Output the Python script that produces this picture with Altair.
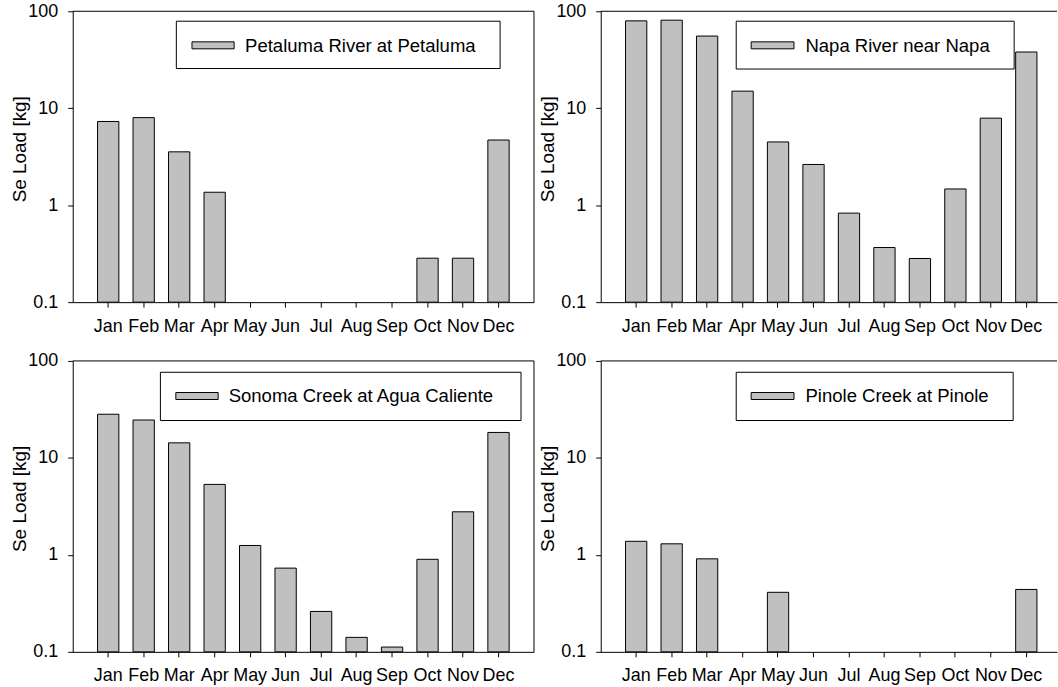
import altair as alt
import pandas as pd

months = ["Jan", "Feb", "Mar", "Apr", "May", "Jun", "Jul", "Aug", "Sep", "Oct", "Nov", "Dec"]
sites = ["Petaluma River at Petaluma", "Napa River near Napa",
         "Sonoma Creek at Agua Caliente", "Pinole Creek at Pinole"]

petaluma = [7.3, 8.0, 3.55, 1.36, None, None, None, None, None, 0.284, 0.284, 4.7]
napa = [79.6, 80.9, 55.5, 15.0, 4.49, 2.63, 0.828, 0.366, 0.282, 1.47, 7.9, 38.0]
sonoma = [28.2, 24.6, 14.3, 5.33, 1.25, 0.73, 0.261, 0.141, 0.112, 0.90, 2.78, 18.3]
pinole = [1.38, 1.30, 0.91, None, 0.411, None, None, None, None, None, None, 0.44]

y_ticks = [0.1, 1, 10, 100]

FONT = "Liberation Sans"
BAR = "#c0c0c0"
H = 292


def panel(name, values, left, box):
    w = 463 if left else 458
    df = pd.DataFrame({"month": months, "load": values}).dropna()
    if left:
        xs = alt.Scale(domain=months, paddingInner=0.4, paddingOuter=0.7)
    else:
        xs = alt.Scale(domain=months, paddingInner=0.4, paddingOuter=0.6326, align=0.553)
    x = alt.X("month:N", scale=xs, sort=months,
              axis=alt.Axis(title=None, labelAngle=0, labelFontSize=18, labelPadding=10,
                            tickSize=5))
    y = alt.Y("load:Q", scale=alt.Scale(type="log", domain=[0.1, 100]),
              axis=alt.Axis(values=y_ticks, format="~g", title="Se Load [kg]",
                            labelFontSize=18, labelPadding=10, tickSize=5,
                            titleFontSize=19, titleFontWeight="normal",
                            titleX=-47, titleY=138, titleBaseline="alphabetic"))
    bars = alt.Chart(df).mark_bar(fill=BAR, stroke="black", strokeWidth=1).encode(
        x=x, y=y, y2=alt.datum(0.1))

    lab = pd.DataFrame({"site": [name]})
    bx0, by0, bx1, by1, sx0, sx1, sy0, sy1, tx, ty = box
    frame = alt.Chart(lab).mark_rect(fill="white", stroke="black", strokeWidth=1).encode(
        x=alt.value(bx0), x2=alt.value(bx1), y=alt.value(by0), y2=alt.value(by1))
    swatch = alt.Chart(lab).mark_rect(fill=BAR, stroke="black", strokeWidth=1).encode(
        x=alt.value(sx0), x2=alt.value(sx1), y=alt.value(sy0), y2=alt.value(sy1))
    text = alt.Chart(lab).mark_text(align="left", baseline="middle", fontSize=18.6,
                                    font=FONT, color="black").encode(
        x=alt.value(tx), y=alt.value(ty), text="site:N")
    top = alt.Chart(lab).mark_rule(color="black", strokeWidth=1).encode(
        x=alt.value(0), x2=alt.value(w), y=alt.value(0))
    layers = [bars, top, frame, swatch, text]
    if left:
        right = alt.Chart(lab).mark_rule(color="black", strokeWidth=1).encode(
            x=alt.value(w), y=alt.value(0), y2=alt.value(H))
        layers.append(right)
    return alt.layer(*layers).properties(width=w, height=H)


p1 = panel(sites[0], petaluma, True, (104, 10, 429, 57.5, 119.7, 162, 30.7, 37.7, 173, 34.5))
p2 = panel(sites[1], napa, False, (136, 10, 415, 58, 151, 194, 30.7, 37.7, 205.5, 34.5))
p3 = panel(sites[2], sonoma, True, (88, 11.4, 450, 59.8, 103.5, 146, 31.7, 38.7, 156.5, 35.5))
p4 = panel(sites[3], pinole, False, (136, 11.4, 414, 59.8, 151, 194, 31.7, 38.7, 205.5, 35.5))

chart = alt.vconcat(
    alt.hconcat(p1, p2, spacing=3),
    alt.hconcat(p3, p4, spacing=3),
    spacing=15,
).properties(
    padding={"left": 10, "top": 0, "right": 0, "bottom": 0},
    background="white",
).configure_view(
    stroke="transparent"
).configure_axis(
    grid=False, domainColor="black", domainWidth=1, tickColor="black", tickWidth=1,
    labelColor="black", titleColor="black", labelFont=FONT, titleFont=FONT,
)

chart.save("out.html", embed_options={"renderer": "svg", "actions": False})
